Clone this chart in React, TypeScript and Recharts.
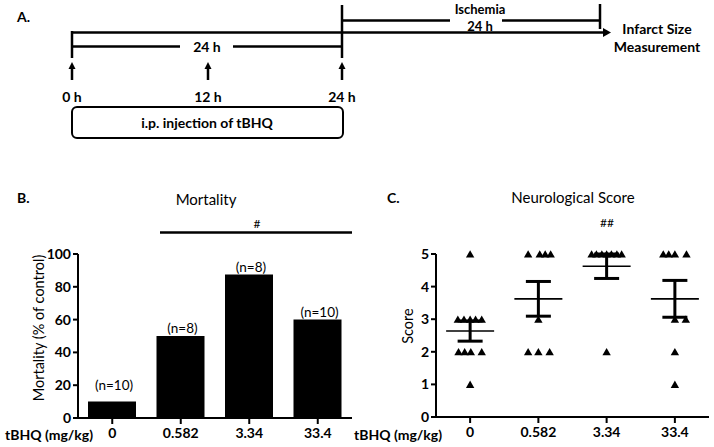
import React from 'react';
import { BarChart, Bar, XAxis, YAxis, LabelList, ScatterChart, Scatter, ErrorBar } from 'recharts';

// ---------- data ----------
const doseLabels = ['0', '0.582', '3.34', '33.4'];
const mortalityPct = [10, 50, 87.5, 60];
const groupN = ['(n=10)', '(n=8)', '(n=8)', '(n=10)'];
const mortalityTicks = [0, 20, 40, 60, 80, 100];
const scoreTicks = [0, 1, 2, 3, 4, 5];

const scores0 = [5, 3, 3, 3, 3, 3, 2, 2, 2, 2, 1];
const jitter0 = [0, -0.18, -0.09, 0, 0.08, 0.17, -0.17, -0.08, 0.01, 0.17, 0];
const scores1 = [5, 5, 5, 5, 3, 2, 2, 2];
const jitter1 = [-0.15, 0.02, 0.1, 0.18, 0, -0.15, 0, 0.165];
const scores2 = [5, 5, 5, 5, 5, 5, 5, 2];
const jitter2 = [-0.22, -0.15, -0.07, 0, 0.07, 0.15, 0.22, 0];
const scores3 = [5, 5, 5, 5, 3, 3, 2, 1];
const jitter3 = [-0.17, -0.09, 0, 0.17, 0, 0.16, 0, 0];

const timePoints = ['0 h', '12 h', '24 h'];

// ---------- derived tables ----------
const barData = doseLabels.map((d, i) => ({ dose: d, mortality: mortalityPct[i], n: groupN[i] }));
const groups = [
  { s: scores0, j: jitter0 },
  { s: scores1, j: jitter1 },
  { s: scores2, j: jitter2 },
  { s: scores3, j: jitter3 },
];
const pointData = groups.flatMap((g, gi) => g.s.map((v, k) => ({ x: gi + g.j[k], y: v })));
const meanData = groups.map((g, gi) => {
  const n = g.s.length;
  const mean = g.s.reduce((a, b) => a + b, 0) / n;
  const sd = Math.sqrt(g.s.reduce((a, b) => a + (b - mean) ** 2, 0) / (n - 1));
  return { x: gi, y: mean, sem: sd / Math.sqrt(n) };
});

const FONT = 'Lato, "DejaVu Sans", sans-serif';
const axisStyle = { stroke: '#000', strokeWidth: 2 };
const tickStyle = { fontSize: 14, fontWeight: 700, fill: '#000', fontFamily: FONT };

const Triangle = (props: any) => {
  const { cx, cy } = props;
  if (cx == null || cy == null) return null;
  return <polygon points={`${cx - 4.2},${cy + 3.5} ${cx + 4.2},${cy + 3.5} ${cx},${cy - 3.8}`} fill="#000" />;
};

const MeanLine = (props: any) => {
  const { cx, cy } = props;
  if (cx == null || cy == null) return null;
  return <line x1={cx - 24} x2={cx + 24} y1={cy} y2={cy} stroke="#000" strokeWidth={1.6} />;
};

const labelLift = [12, 3, 3, 3];
const NLabel = (props: any) => {
  const { x, y, width, value, index } = props;
  return (
    <text x={x + width / 2 + 2} y={y - labelLift[index]} textAnchor="middle" fontSize={13.5} fontFamily={FONT} fill="#000">
      {value}
    </text>
  );
};

const Diagram = () => {
  const tx = [72, 208, 342];
  const bold = { fontFamily: FONT, fontWeight: 700, fontSize: 14, fill: '#000' } as const;
  return (
    <svg width={714} height={447} style={{ position: 'absolute', left: 0, top: 0 }}>
      {/* Panel A */}
      <text x={17} y={22} {...bold}>A.</text>
      <line x1={72} y1={32.5} x2={604} y2={32.5} stroke="#000" strokeWidth={2.5} />
      <polygon points="603,28 611,32.5 603,37" fill="#000" />
      <line x1={72} y1={31} x2={72} y2={58} stroke="#000" strokeWidth={2.5} />
      <line x1={342} y1={5} x2={342} y2={58} stroke="#000" strokeWidth={2.5} />
      <line x1={72} y1={46.5} x2={180} y2={46.5} stroke="#000" strokeWidth={2.5} />
      <line x1={233} y1={46.5} x2={342} y2={46.5} stroke="#000" strokeWidth={2.5} />
      <text x={207} y={52} textAnchor="middle" {...bold}>24 h</text>
      <line x1={342} y1={20.5} x2={450} y2={20.5} stroke="#000" strokeWidth={2.5} />
      <line x1={502} y1={20.5} x2={600} y2={20.5} stroke="#000" strokeWidth={2.5} />
      <line x1={600} y1={4} x2={600} y2={29} stroke="#000" strokeWidth={2.5} />
      <text x={480} y={14} textAnchor="middle" {...bold} fontSize={13}>Ischemia</text>
      <text x={480} y={30.5} textAnchor="middle" {...bold} fontSize={13}>24 h</text>
      <text x={657} y={34} textAnchor="middle" {...bold}>Infarct Size</text>
      <text x={657} y={52} textAnchor="middle" {...bold}>Measurement</text>
      {tx.map((x, i) => (
        <g key={i}>
          <polygon points={`${x - 3.5},69 ${x + 3.5},69 ${x},62`} fill="#000" />
          <line x1={x} y1={68} x2={x} y2={80} stroke="#000" strokeWidth={2.5} />
          <text x={x} y={102} textAnchor="middle" {...bold}>{timePoints[i]}</text>
        </g>
      ))}
      <rect x={72} y={107} width={271} height={31} rx={5} fill="none" stroke="#000" strokeWidth={2} />
      <text x={207} y={128} textAnchor="middle" {...bold}>i.p. injection of tBHQ</text>

      {/* Panel B annotations */}
      <text x={17} y={203} {...bold}>B.</text>
      <text x={206} y={205} textAnchor="middle" fontFamily={FONT} fontSize={15} fill="#000">Mortality</text>
      <text x={257} y={228} textAnchor="middle" fontFamily={FONT} fontSize={12} fill="#000">#</text>
      <line x1={160} y1={232.5} x2={352} y2={232.5} stroke="#000" strokeWidth={2.5} />
      <text x={38} y={328} textAnchor="middle" dominantBaseline="central" transform="rotate(-90 38 328)" fontFamily={FONT} fontSize={14.5} fill="#000">Mortality (% of control)</text>
      <text x={5} y={440} {...bold}>tBHQ (mg/kg)</text>

      {/* Panel C annotations */}
      <text x={387} y={203} {...bold}>C.</text>
      <text x={573} y={203} textAnchor="middle" fontFamily={FONT} fontSize={15} fill="#000">Neurological Score</text>
      <text x={607} y={227} textAnchor="middle" fontFamily={FONT} fontSize={12} fill="#000">##</text>
      <text x={407} y={326} textAnchor="middle" dominantBaseline="central" transform="rotate(-90 407 326)" fontFamily={FONT} fontSize={14.5} fill="#000">Score</text>
      <text x={354} y={440} {...bold}>tBHQ (mg/kg)</text>
    </svg>
  );
};

export default function App() {
  return (
    <div style={{ position: 'absolute', left: 0, top: 0, width: 714, height: 447, background: '#fff', fontFamily: FONT }}>
      <Diagram />
      <div style={{ position: 'absolute', left: 0, top: 180 }}>
        <BarChart width={360} height={267} data={barData} margin={{ top: 74, right: 8, bottom: 0, left: 0 }} barCategoryGap={0}>
          <XAxis dataKey="dose" height={29} axisLine={axisStyle} tickLine={axisStyle} tickSize={6} tickMargin={4} tick={tickStyle} interval={0} />
          <YAxis domain={[0, 100]} ticks={mortalityTicks} width={78} axisLine={axisStyle} tickLine={axisStyle} tickSize={5} tickMargin={2} tick={tickStyle} interval={0} />
          <Bar dataKey="mortality" fill="#000" barSize={48} isAnimationActive={false}>
            <LabelList dataKey="n" content={NLabel} />
          </Bar>
        </BarChart>
      </div>
      <div style={{ position: 'absolute', left: 360, top: 180 }}>
        <ScatterChart width={354} height={267} margin={{ top: 74, right: 5, bottom: 0, left: 0 }}>
          <XAxis type="number" dataKey="x" domain={[-0.5, 3.5]} ticks={[0, 1, 2, 3]} tickFormatter={(v: number) => doseLabels[v]} height={30} axisLine={axisStyle} tickLine={axisStyle} tickSize={6} tickMargin={4} tick={tickStyle} interval={0} allowDataOverflow />
          <YAxis type="number" dataKey="y" domain={[0, 5]} ticks={scoreTicks} width={76} axisLine={axisStyle} tickLine={axisStyle} tickSize={5} tickMargin={2} tick={tickStyle} interval={0} />
          <Scatter data={pointData} shape={Triangle} isAnimationActive={false} />
          <Scatter data={meanData} shape={MeanLine} isAnimationActive={false}>
            <ErrorBar dataKey="sem" direction="y" width={12.5} stroke="#000" strokeWidth={3} />
          </Scatter>
        </ScatterChart>
      </div>
    </div>
  );
}
